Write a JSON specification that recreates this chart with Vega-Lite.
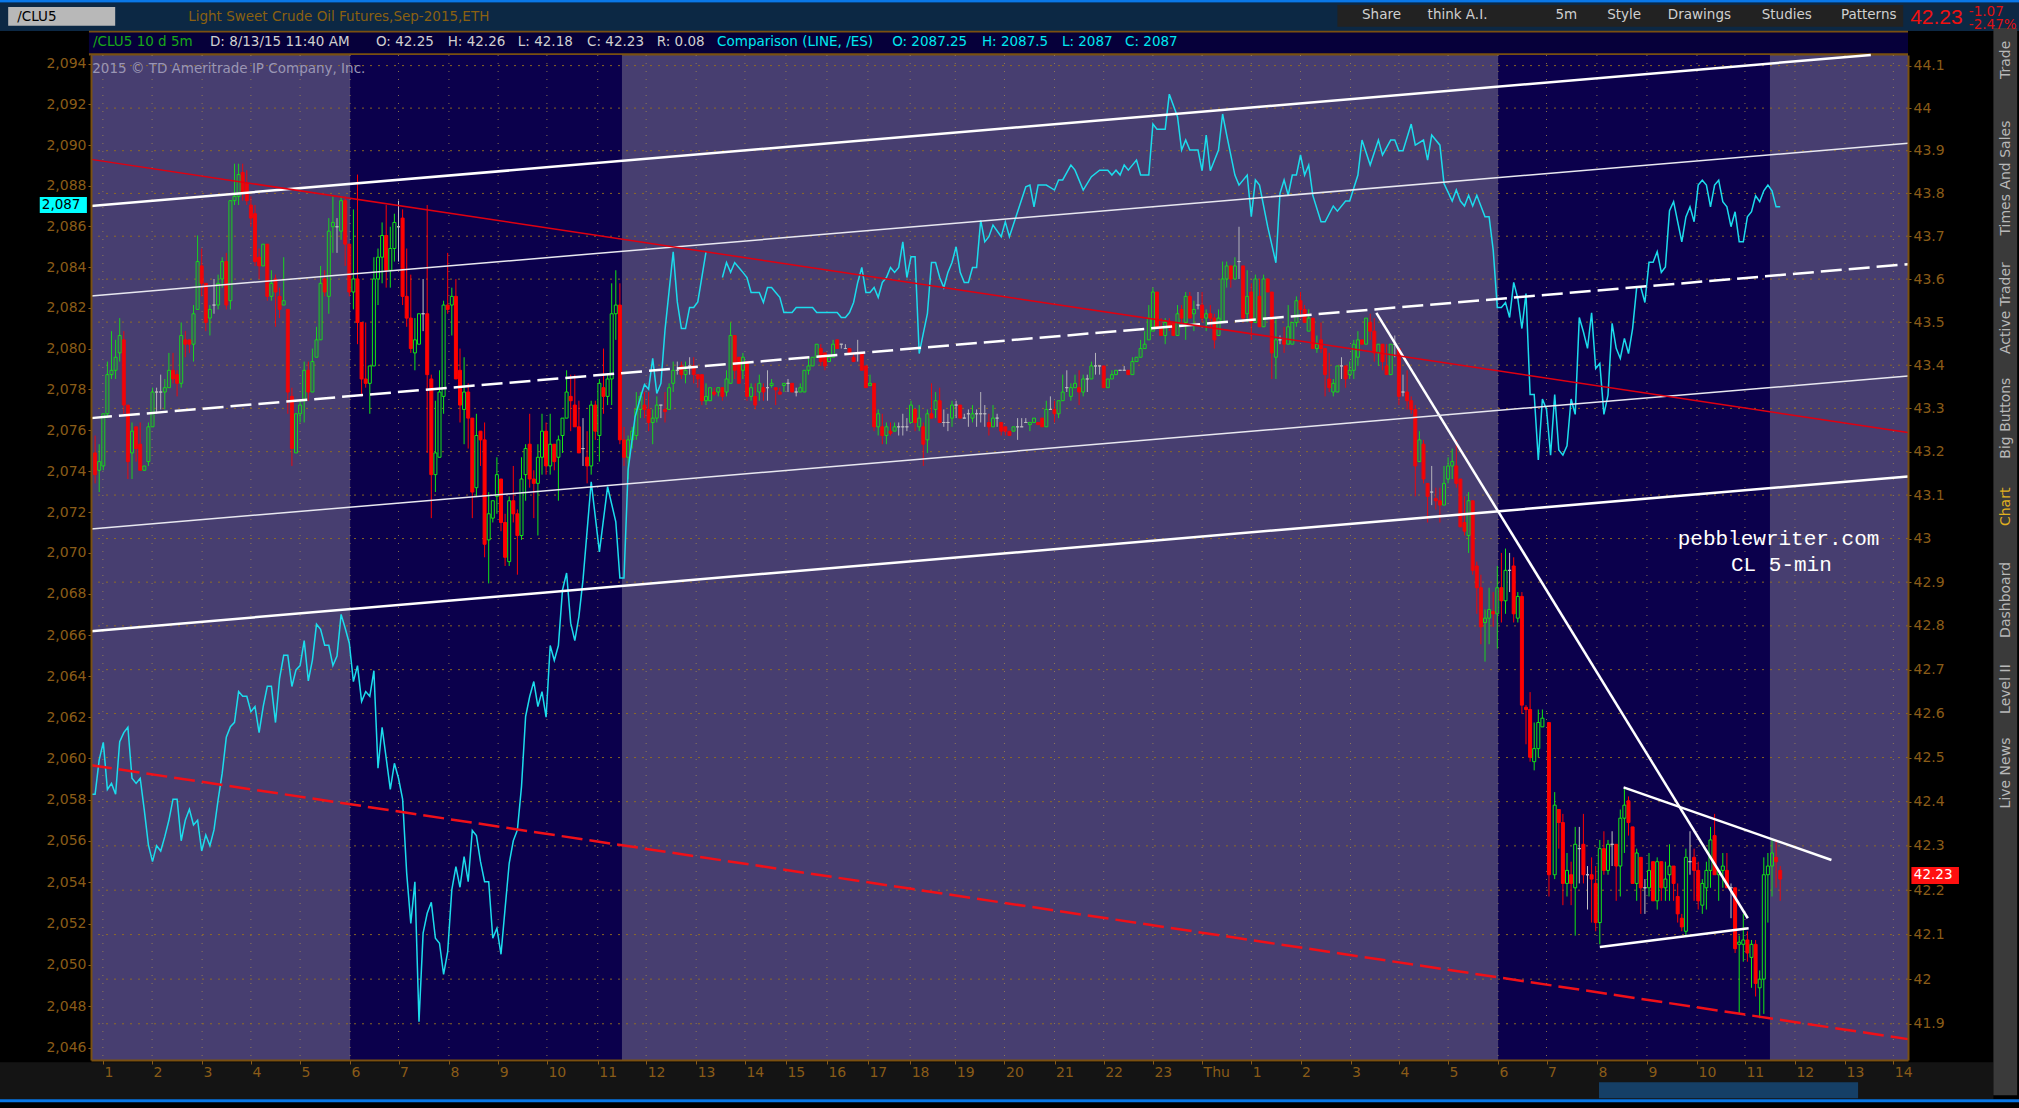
{"$schema":"https://vega.github.io/schema/vega-lite/v6.json","autosize":"none","width":1817,"height":1005,"padding":{"left":91,"top":55,"right":111,"bottom":48},"background":"#000000","view":{"fill":"#473e70","stroke":null},
"datasets":{
"sessions":[{"t":63.2,"t2":129.5},{"t":343.2,"t2":409.5}],
"hours":[{"t":2.9,"h":"1"},{"t":14.9,"h":"2"},{"t":27.1,"h":"3"},{"t":39,"h":"4"},{"t":51,"h":"5"},{"t":63.2,"h":"6"},{"t":75,"h":"7"},{"t":87.3,"h":"8"},{"t":99.3,"h":"9"},{"t":111.2,"h":"10"},{"t":123.6,"h":"11"},{"t":135.4,"h":"12"},{"t":147.6,"h":"13"},{"t":159.5,"h":"14"},{"t":169.5,"h":"15"},{"t":179.5,"h":"16"},{"t":189.5,"h":"17"},{"t":199.8,"h":"18"},{"t":210.8,"h":"19"},{"t":222.8,"h":"20"},{"t":235,"h":"21"},{"t":247,"h":"22"},{"t":259,"h":"23"},{"t":271,"h":"Thu"},{"t":283,"h":"1"},{"t":295,"h":"2"},{"t":307.2,"h":"3"},{"t":319,"h":"4"},{"t":331,"h":"5"},{"t":343.2,"h":"6"},{"t":355,"h":"7"},{"t":367.3,"h":"8"},{"t":379.5,"h":"9"},{"t":391.7,"h":"10"},{"t":403.4,"h":"11"},{"t":415.6,"h":"12"},{"t":427.8,"h":"13"},{"t":439.6,"h":"14"}],
"clticks":[{"v":41.9},{"v":42},{"v":42.1},{"v":42.2},{"v":42.3},{"v":42.4},{"v":42.5},{"v":42.6},{"v":42.7},{"v":42.8},{"v":42.9},{"v":43},{"v":43.1},{"v":43.2},{"v":43.3},{"v":43.4},{"v":43.5},{"v":43.6},{"v":43.7},{"v":43.8},{"v":43.9},{"v":44},{"v":44.1}],
"esticks":[{"v":2046},{"v":2094}],
"trends":[{"n":"a","t":0,"p":43.778},{"n":"a","t":434.1,"p":44.125},{"n":"e","t":0,"p":42.8},{"n":"e","t":443.17,"p":43.156},{"n":"b","t":0,"p":43.571},{"n":"b","t":443.17,"p":43.922},{"n":"d","t":0,"p":43.035},{"n":"d","t":443.17,"p":43.387},{"n":"c","t":0,"p":43.29},{"n":"c","t":443.17,"p":43.644},{"n":"f","t":0,"p":43.885},{"n":"f","t":443.17,"p":43.257},{"n":"g","t":0,"p":42.492},{"n":"g","t":443.17,"p":41.862},{"n":"h","t":313.5,"p":43.532},{"n":"h","t":404.1,"p":42.14},{"n":"i","t":373.8,"p":42.441},{"n":"i","t":424.5,"p":42.274},{"n":"j","t":368,"p":42.074},{"n":"j","t":404.3,"p":42.117}],
"chrome":[{"part":"top","t":-22.2,"t2":470.3,"p":44.246,"p2":44.18},{"part":"blue","t":-22.2,"t2":470.3,"p":44.2516,"p2":44.246},{"part":"bottom","t":-22.2,"t2":464,"p":41.809,"p2":41.724},{"part":"blue","t":-22.2,"t2":470.3,"p":41.724,"p2":41.717},{"part":"side","t":464,"t2":469.8,"p":44.187,"p2":41.733},{"part":"info","t":-0.5,"t2":443.17,"p":44.178,"p2":44.125},{"part":"edge","t":-0.5,"t2":443.17,"p":44.181,"p2":44.177},{"part":"edge","t":-0.5,"t2":443.17,"p":44.129,"p2":44.124},{"part":"tool","t":304,"t2":442,"p":44.24,"p2":44.19},{"part":"box","t":-20.2,"t2":5.9,"p":44.2355,"p2":44.192},{"part":"scroll","t":367.8,"t2":431,"p":41.763,"p2":41.726},{"part":"tagc","t":-12.5,"t2":-1,"p":43.7985,"p2":43.7617},{"part":"tagr","t":444,"t2":455.6,"p":42.2576,"p2":42.2185}],
"labels":[{"s":"/CLU5","t":-18,"p":44.2125,"g":"k"},{"s":"Light Sweet Crude Oil Futures,Sep-2015,ETH","t":23.7,"p":44.2125,"g":"o"},{"s":"/CLU5 10 d 5m","t":0.5,"p":44.155,"g":"g"},{"s":"D: 8/13/15 11:40 AM","t":29,"p":44.155,"g":"w"},{"s":"O: 42.25","t":69.5,"p":44.155,"g":"w"},{"s":"H: 42.26","t":87,"p":44.155,"g":"w"},{"s":"L: 42.18","t":104.1,"p":44.155,"g":"w"},{"s":"C: 42.23","t":121,"p":44.155,"g":"w"},{"s":"R: 0.08","t":138,"p":44.155,"g":"w"},{"s":"Comparison (LINE, /ES)","t":152.7,"p":44.155,"g":"c"},{"s":"O: 2087.25","t":195.4,"p":44.155,"g":"c"},{"s":"H: 2087.5","t":217.3,"p":44.155,"g":"c"},{"s":"L: 2087","t":236.8,"p":44.155,"g":"c"},{"s":"C: 2087","t":252.2,"p":44.155,"g":"c"},{"s":"Share","t":310,"p":44.2175,"g":"w"},{"s":"think A.I.","t":326,"p":44.2175,"g":"w"},{"s":"5m","t":357.2,"p":44.2175,"g":"w"},{"s":"Style","t":369.8,"p":44.2175,"g":"w"},{"s":"Drawings","t":384.6,"p":44.2175,"g":"w"},{"s":"Studies","t":407.5,"p":44.2175,"g":"w"},{"s":"Patterns","t":426.8,"p":44.2175,"g":"w"},{"s":"-1.07","t":458,"p":44.224,"g":"r"},{"s":"-2.47%","t":458,"p":44.194,"g":"r"},{"s":"2015 © TD Ameritrade IP Company, Inc.","t":0.3,"p":44.093,"g":"v"},{"s":"2,087","t":-12,"p":43.78,"g":"k"},{"s":"42.23","t":444.6,"p":42.239,"g":"x"}],
"last":[{"s":"42.23","t":443.7,"p":44.21}],
"tabs":[{"s":"Trade","t":467,"p":44.114,"g":"n"},{"s":"Times And Sales","t":467,"p":43.842,"g":"n"},{"s":"Active Trader","t":467,"p":43.543,"g":"n"},{"s":"Big Buttons","t":467,"p":43.29,"g":"n"},{"s":"Chart","t":467,"p":43.086,"g":"y"},{"s":"Dashboard","t":467,"p":42.872,"g":"n"},{"s":"Level II","t":467,"p":42.667,"g":"n"},{"s":"Live News","t":467,"p":42.474,"g":"n"}],
"notes":[{"s":"pebblewriter.com","t":387,"p":43.011},{"s":"CL 5-min","t":400,"p":42.952}],
"es":[{"t":0,"es":2058.37},{"t":1,"es":2058.37},{"t":2,"es":2060.05},{"t":3,"es":2060.9},{"t":4,"es":2058.6},{"t":5,"es":2058.9},{"t":6,"es":2058.37},{"t":7,"es":2060.94},{"t":8,"es":2061.38},{"t":9,"es":2061.64},{"t":10,"es":2059.15},{"t":11,"es":2058.9},{"t":12,"es":2059.15},{"t":13,"es":2057.6},{"t":14,"es":2055.9},{"t":15,"es":2055.08},{"t":16,"es":2055.86},{"t":17,"es":2055.6},{"t":18,"es":2056.3},{"t":19,"es":2057.1},{"t":20,"es":2058.13},{"t":21,"es":2058.13},{"t":22,"es":2056.1},{"t":23,"es":2057.1},{"t":24,"es":2057.64},{"t":25,"es":2056.87},{"t":26,"es":2057.1},{"t":27,"es":2055.6},{"t":28,"es":2056.38},{"t":29,"es":2055.86},{"t":30,"es":2056.63},{"t":31,"es":2058.1},{"t":32,"es":2059.4},{"t":33,"es":2061.15},{"t":34,"es":2061.67},{"t":35,"es":2061.88},{"t":36,"es":2063.38},{"t":37,"es":2063.15},{"t":38,"es":2063.15},{"t":39,"es":2062.4},{"t":40,"es":2062.65},{"t":41,"es":2061.38},{"t":42,"es":2062.65},{"t":43,"es":2063.64},{"t":44,"es":2063.64},{"t":45,"es":2061.87},{"t":46,"es":2064.03},{"t":47,"es":2065.15},{"t":48,"es":2065.15},{"t":49,"es":2063.63},{"t":50,"es":2064.44},{"t":51,"es":2064.65},{"t":52,"es":2065.87},{"t":53,"es":2063.9},{"t":54,"es":2064.92},{"t":55,"es":2066.67},{"t":56,"es":2066.42},{"t":57,"es":2065.64},{"t":58,"es":2065.64},{"t":59,"es":2064.65},{"t":60,"es":2065.12},{"t":61,"es":2067.15},{"t":62,"es":2066.47},{"t":63,"es":2065.74},{"t":64,"es":2063.87},{"t":65,"es":2064.65},{"t":66,"es":2062.9},{"t":67,"es":2063.38},{"t":68,"es":2063.15},{"t":69,"es":2064.4},{"t":70,"es":2059.64},{"t":71,"es":2061.64},{"t":72,"es":2060.13},{"t":73,"es":2058.61},{"t":74,"es":2059.88},{"t":75,"es":2059.15},{"t":76,"es":2058.13},{"t":77,"es":2054.51},{"t":78,"es":2052.07},{"t":79,"es":2054.1},{"t":80,"es":2047.27},{"t":81,"es":2051.59},{"t":82,"es":2052.56},{"t":83,"es":2053.1},{"t":84,"es":2051.34},{"t":85,"es":2051.1},{"t":86,"es":2049.58},{"t":87,"es":2050.69},{"t":88,"es":2053.7},{"t":89,"es":2054.84},{"t":90,"es":2053.83},{"t":91,"es":2055.33},{"t":92,"es":2054.1},{"t":93,"es":2056.6},{"t":94,"es":2056.35},{"t":95,"es":2055.08},{"t":96,"es":2054.1},{"t":97,"es":2054.1},{"t":98,"es":2051.34},{"t":99,"es":2051.83},{"t":100,"es":2050.56},{"t":101,"es":2052.8},{"t":102,"es":2055},{"t":103,"es":2056.1},{"t":104,"es":2056.63},{"t":105,"es":2058.74},{"t":106,"es":2062.16},{"t":107,"es":2063.14},{"t":108,"es":2063.87},{"t":109,"es":2062.65},{"t":110,"es":2063.38},{"t":111,"es":2062.13},{"t":112,"es":2065.63},{"t":113,"es":2064.9},{"t":114,"es":2065.63},{"t":115,"es":2068.34},{"t":116,"es":2069.17},{"t":117,"es":2066.72},{"t":118,"es":2065.87},{"t":119,"es":2067.04},{"t":120,"es":2068.83},{"t":122,"es":2073.62},{"t":124,"es":2070.2},{"t":126,"es":2073.38},{"t":128,"es":2071.67},{"t":129,"es":2068.92},{"t":130,"es":2068.92},{"t":131,"es":2074.2},{"t":132.7,"es":2076.79},{"t":134.3,"es":2077.93},{"t":135,"es":2078.37},{"t":136,"es":2078.14},{"t":137,"es":2079.64},{"t":138,"es":2077.93},{"t":139,"es":2078.42},{"t":140,"es":2081.02},{"t":142,"es":2084.84},{"t":143,"es":2082.4},{"t":144,"es":2081.1},{"t":145,"es":2081.1},{"t":146,"es":2082.13},{"t":147,"es":2082.13},{"t":148,"es":2082.4},{"t":150,"es":2084.84},{"t":152,"es":null},{"t":154,"es":2083.59},{"t":155,"es":2084.32},{"t":156,"es":2083.84},{"t":157,"es":2084.32},{"t":158,"es":2084.08},{"t":159,"es":2083.84},{"t":160,"es":2083.59},{"t":161,"es":2082.86},{"t":163,"es":2082.86},{"t":164,"es":2082.37},{"t":165,"es":2083.1},{"t":166,"es":2083.1},{"t":167,"es":2082.86},{"t":168,"es":2082.62},{"t":169,"es":2081.88},{"t":171,"es":2081.88},{"t":172,"es":2082.13},{"t":176,"es":2082.13},{"t":177,"es":2081.88},{"t":182,"es":2081.88},{"t":183,"es":2081.64},{"t":184,"es":2081.64},{"t":185,"es":2081.88},{"t":186,"es":2082.37},{"t":187,"es":2083.35},{"t":188,"es":2084.08},{"t":189,"es":2082.86},{"t":190,"es":2082.86},{"t":191,"es":2083.1},{"t":192,"es":2082.62},{"t":193,"es":2083.35},{"t":194,"es":2083.59},{"t":195,"es":2084.08},{"t":196,"es":2083.84},{"t":197,"es":2084.08},{"t":198,"es":2085.33},{"t":199,"es":2083.59},{"t":200,"es":2084.6},{"t":201,"es":2084.6},{"t":202,"es":2079.88},{"t":203,"es":2080.86},{"t":204,"es":2081.83},{"t":205,"es":2084.32},{"t":206,"es":2084.32},{"t":207,"es":2083.59},{"t":208,"es":2083.1},{"t":209,"es":2083.84},{"t":210,"es":2084.32},{"t":211,"es":2085.09},{"t":212,"es":2083.84},{"t":213,"es":2083.35},{"t":214,"es":2083.35},{"t":215,"es":2084.08},{"t":216,"es":2084.08},{"t":217,"es":2086.39},{"t":218,"es":2085.33},{"t":219,"es":2085.58},{"t":220,"es":2086.15},{"t":222,"es":2085.58},{"t":223,"es":2086.31},{"t":224,"es":2085.58},{"t":226,"es":2086.8},{"t":228,"es":2088.02},{"t":229,"es":2088.1},{"t":230,"es":2087.04},{"t":231,"es":2088.1},{"t":233,"es":2088.1},{"t":235,"es":2087.86},{"t":236,"es":2088.35},{"t":237,"es":2088.35},{"t":239,"es":2089.08},{"t":240,"es":2088.83},{"t":242,"es":2087.86},{"t":244,"es":2088.51},{"t":246,"es":2088.83},{"t":248,"es":2088.83},{"t":249,"es":2088.59},{"t":250,"es":2088.83},{"t":251,"es":2088.59},{"t":252,"es":2089.08},{"t":253,"es":2088.83},{"t":255,"es":2089.32},{"t":256,"es":2088.59},{"t":258,"es":2088.59},{"t":259,"es":2091.08},{"t":260,"es":2090.83},{"t":262,"es":2090.83},{"t":263,"es":2092.54},{"t":265,"es":2091.44},{"t":266,"es":2089.81},{"t":267,"es":2090.3},{"t":268,"es":2089.81},{"t":270,"es":2089.81},{"t":271,"es":2088.8},{"t":272,"es":2090.54},{"t":273,"es":2088.8},{"t":275,"es":2089.81},{"t":276,"es":2091.57},{"t":277,"es":2090.54},{"t":279,"es":2088.59},{"t":280,"es":2088.1},{"t":282,"es":2088.59},{"t":283,"es":2086.56},{"t":284,"es":2088.35},{"t":285,"es":2088.1},{"t":287,"es":2086.07},{"t":289,"es":2084.31},{"t":290,"es":2087.7},{"t":291,"es":2088.35},{"t":292,"es":2087.6},{"t":293,"es":2088.59},{"t":294,"es":2088.59},{"t":295,"es":2089.57},{"t":296,"es":2088.59},{"t":297,"es":2089.08},{"t":298,"es":2087.6},{"t":300,"es":2086.31},{"t":301,"es":2086.31},{"t":303,"es":2087.08},{"t":304,"es":2086.83},{"t":306,"es":2087.32},{"t":307,"es":2087.32},{"t":309,"es":2088.59},{"t":310,"es":2090.3},{"t":312,"es":2089.08},{"t":314,"es":2090.3},{"t":315,"es":2089.57},{"t":317,"es":2090.3},{"t":318,"es":2090.3},{"t":319,"es":2089.78},{"t":320,"es":2089.78},{"t":322,"es":2091.08},{"t":323,"es":2090.05},{"t":325,"es":2090.3},{"t":326,"es":2089.32},{"t":327,"es":2090.54},{"t":329,"es":2090.05},{"t":330,"es":2088.18},{"t":332,"es":2087.32},{"t":333,"es":2087.86},{"t":334,"es":2087.32},{"t":335,"es":2087.08},{"t":336,"es":2087.6},{"t":337,"es":2087.08},{"t":338,"es":2087.6},{"t":340,"es":2086.56},{"t":341,"es":2086.56},{"t":342,"es":2084.93},{"t":343,"es":2082.13},{"t":344,"es":2082.13},{"t":345,"es":2082.37},{"t":346,"es":2081.64},{"t":347,"es":2083.35},{"t":348,"es":2082.57},{"t":349,"es":2081.1},{"t":350,"es":2082.81},{"t":351,"es":2077.88},{"t":352,"es":2077.88},{"t":353,"es":2074.68},{"t":354,"es":2077.66},{"t":355,"es":2077.15},{"t":356,"es":2074.92},{"t":357,"es":2077.88},{"t":358,"es":2075.17},{"t":359,"es":2074.92},{"t":360,"es":2075.38},{"t":361,"es":2077.66},{"t":362,"es":2076.91},{"t":363,"es":2081.64},{"t":364,"es":2080.94},{"t":365,"es":2080.13},{"t":366,"es":2081.87},{"t":367,"es":2079.15},{"t":368,"es":2079.4},{"t":369,"es":2076.91},{"t":370,"es":2077.85},{"t":371,"es":2081.35},{"t":372,"es":2080.13},{"t":373,"es":2079.64},{"t":374,"es":2080.62},{"t":375,"es":2079.88},{"t":376,"es":2081.1},{"t":377,"es":2083.11},{"t":378,"es":2083.11},{"t":379,"es":2082.37},{"t":380,"es":2084.33},{"t":381,"es":2084.33},{"t":382,"es":2084.85},{"t":383,"es":2083.84},{"t":384,"es":2084.11},{"t":385,"es":2086.85},{"t":386,"es":2087.29},{"t":387,"es":2086.31},{"t":388,"es":2085.33},{"t":389,"es":2086.55},{"t":390,"es":2087.04},{"t":391,"es":2086.31},{"t":392,"es":2088.1},{"t":393,"es":2088.34},{"t":394,"es":2088.1},{"t":395,"es":2087.04},{"t":396,"es":2088.1},{"t":397,"es":2088.34},{"t":398,"es":2087.29},{"t":399,"es":2087.04},{"t":400,"es":2086.07},{"t":401,"es":2086.8},{"t":402,"es":2085.33},{"t":403,"es":2085.33},{"t":404,"es":2086.55},{"t":405,"es":2086.8},{"t":406,"es":2087.58},{"t":407,"es":2087.29},{"t":408,"es":2087.82},{"t":409,"es":2088.1},{"t":410,"es":2087.82},{"t":411,"es":2087.04},{"t":412,"es":2087.04}],
"bars":[{"t":1,"o":43.21,"h":43.25,"l":43.14,"c":43.16},{"t":2,"o":43.17,"h":43.23,"l":43.12,"c":43.19},{"t":3,"o":43.18,"h":43.3,"l":43.17,"c":43.3},{"t":4,"o":43.3,"h":43.42,"l":43.29,"c":43.39},{"t":5,"o":43.39,"h":43.49,"l":43.38,"c":43.4},{"t":6,"o":43.4,"h":43.47,"l":43.38,"c":43.43},{"t":7,"o":43.44,"h":43.52,"l":43.42,"c":43.48},{"t":8,"o":43.47,"h":43.49,"l":43.3,"c":43.32},{"t":9,"o":43.32,"h":43.32,"l":43.15,"c":43.19},{"t":10,"o":43.21,"h":43.28,"l":43.15,"c":43.26},{"t":11,"o":43.27,"h":43.27,"l":43.19,"c":43.22},{"t":12,"o":43.23,"h":43.28,"l":43.17,"c":43.17},{"t":13,"o":43.17,"h":43.18,"l":43.17,"c":43.18},{"t":14,"o":43.19,"h":43.28,"l":43.18,"c":43.27},{"t":15,"o":43.27,"h":43.36,"l":43.27,"c":43.35},{"t":16,"o":43.35,"h":43.36,"l":43.3,"c":43.35},{"t":17,"o":43.35,"h":43.39,"l":43.31,"c":43.35},{"t":18,"o":43.35,"h":43.38,"l":43.31,"c":43.36},{"t":19,"o":43.36,"h":43.44,"l":43.36,"c":43.4},{"t":20,"o":43.4,"h":43.44,"l":43.37,"c":43.38},{"t":21,"o":43.39,"h":43.4,"l":43.34,"c":43.37},{"t":22,"o":43.37,"h":43.51,"l":43.36,"c":43.48},{"t":23,"o":43.47,"h":43.49,"l":43.43,"c":43.46},{"t":24,"o":43.47,"h":43.47,"l":43.44,"c":43.46},{"t":25,"o":43.46,"h":43.55,"l":43.42,"c":43.53},{"t":26,"o":43.54,"h":43.71,"l":43.54,"c":43.65},{"t":27,"o":43.64,"h":43.68,"l":43.57,"c":43.6},{"t":28,"o":43.6,"h":43.6,"l":43.49,"c":43.51},{"t":29,"o":43.52,"h":43.55,"l":43.48,"c":43.54},{"t":30,"o":43.55,"h":43.61,"l":43.53,"c":43.55},{"t":31,"o":43.55,"h":43.62,"l":43.54,"c":43.6},{"t":32,"o":43.61,"h":43.66,"l":43.59,"c":43.65},{"t":33,"o":43.65,"h":43.67,"l":43.54,"c":43.55},{"t":34,"o":43.56,"h":43.79,"l":43.54,"c":43.79},{"t":35,"o":43.79,"h":43.875,"l":43.78,"c":43.8},{"t":36,"o":43.8,"h":43.875,"l":43.78,"c":43.85},{"t":37,"o":43.855,"h":43.875,"l":43.79,"c":43.81},{"t":38,"o":43.83,"h":43.86,"l":43.78,"c":43.79},{"t":39,"o":43.78,"h":43.8,"l":43.73,"c":43.75},{"t":40,"o":43.76,"h":43.78,"l":43.64,"c":43.65},{"t":41,"o":43.66,"h":43.68,"l":43.61,"c":43.64},{"t":42,"o":43.64,"h":43.69,"l":43.64,"c":43.69},{"t":43,"o":43.69,"h":43.69,"l":43.56,"c":43.57},{"t":44,"o":43.57,"h":43.63,"l":43.56,"c":43.6},{"t":45,"o":43.61,"h":43.62,"l":43.5,"c":43.58},{"t":46,"o":43.57,"h":43.59,"l":43.52,"c":43.54},{"t":47,"o":43.55,"h":43.66,"l":43.55,"c":43.56},{"t":48,"o":43.54,"h":43.54,"l":43.3,"c":43.35},{"t":49,"o":43.34,"h":43.36,"l":43.18,"c":43.22},{"t":50,"o":43.21,"h":43.3,"l":43.21,"c":43.3},{"t":51,"o":43.3,"h":43.33,"l":43.28,"c":43.32},{"t":52,"o":43.33,"h":43.42,"l":43.28,"c":43.4},{"t":53,"o":43.4,"h":43.42,"l":43.33,"c":43.35},{"t":54,"o":43.35,"h":43.45,"l":43.35,"c":43.42},{"t":55,"o":43.43,"h":43.5,"l":43.43,"c":43.47},{"t":56,"o":43.47,"h":43.64,"l":43.47,"c":43.6},{"t":57,"o":43.61,"h":43.63,"l":43.57,"c":43.58},{"t":58,"o":43.57,"h":43.75,"l":43.53,"c":43.72},{"t":59,"o":43.73,"h":43.8,"l":43.67,"c":43.74},{"t":60,"o":43.73,"h":43.75,"l":43.67,"c":43.73},{"t":61,"o":43.72,"h":43.8,"l":43.7,"c":43.79},{"t":62,"o":43.79,"h":43.8,"l":43.64,"c":43.69},{"t":63,"o":43.69,"h":43.69,"l":43.57,"c":43.58},{"t":64,"o":43.58,"h":43.77,"l":43.54,"c":43.61},{"t":65,"o":43.61,"h":43.85,"l":43.46,"c":43.51},{"t":66,"o":43.51,"h":43.51,"l":43.34,"c":43.38},{"t":67,"o":43.38,"h":43.51,"l":43.36,"c":43.37},{"t":68,"o":43.37,"h":43.41,"l":43.3,"c":43.41},{"t":69,"o":43.41,"h":43.66,"l":43.41,"c":43.61},{"t":70,"o":43.61,"h":43.68,"l":43.55,"c":43.66},{"t":71,"o":43.66,"h":43.74,"l":43.6,"c":43.71},{"t":72,"o":43.71,"h":43.78,"l":43.59,"c":43.63},{"t":73,"o":43.63,"h":43.73,"l":43.59,"c":43.68},{"t":74,"o":43.68,"h":43.76,"l":43.65,"c":43.74},{"t":75,"o":43.73,"h":43.79,"l":43.65,"c":43.73},{"t":76,"o":43.75,"h":43.77,"l":43.55,"c":43.57},{"t":77,"o":43.57,"h":43.68,"l":43.5,"c":43.52},{"t":78,"o":43.52,"h":43.62,"l":43.44,"c":43.45},{"t":79,"o":43.44,"h":43.52,"l":43.4,"c":43.47},{"t":80,"o":43.46,"h":43.53,"l":43.46,"c":43.53},{"t":81,"o":43.53,"h":43.61,"l":43.49,"c":43.53},{"t":82,"o":43.53,"h":43.78,"l":43.21,"c":43.39},{"t":83,"o":43.38,"h":43.39,"l":43.06,"c":43.16},{"t":84,"o":43.16,"h":43.33,"l":43.12,"c":43.21},{"t":85,"o":43.2,"h":43.4,"l":43.2,"c":43.35},{"t":86,"o":43.34,"h":43.56,"l":43.3,"c":43.55},{"t":87,"o":43.55,"h":43.67,"l":43.53,"c":43.54},{"t":88,"o":43.55,"h":43.59,"l":43.48,"c":43.57},{"t":89,"o":43.57,"h":43.61,"l":43.38,"c":43.38},{"t":90,"o":43.4,"h":43.45,"l":43.28,"c":43.32},{"t":91,"o":43.31,"h":43.43,"l":43.23,"c":43.35},{"t":92,"o":43.35,"h":43.37,"l":43.22,"c":43.29},{"t":93,"o":43.29,"h":43.29,"l":43.06,"c":43.12},{"t":94,"o":43.13,"h":43.3,"l":43.11,"c":43.25},{"t":95,"o":43.26,"h":43.26,"l":43.18,"c":43.24},{"t":96,"o":43.24,"h":43.28,"l":42.97,"c":43},{"t":97,"o":43.01,"h":43.12,"l":42.91,"c":43.07},{"t":98,"o":43.06,"h":43.1,"l":43.05,"c":43.1},{"t":99,"o":43.11,"h":43.2,"l":43.07,"c":43.16},{"t":100,"o":43.15,"h":43.15,"l":43.03,"c":43.05},{"t":101,"o":43.05,"h":43.07,"l":42.95,"c":42.97},{"t":102,"o":42.96,"h":43.11,"l":42.95,"c":43.1},{"t":103,"o":43.1,"h":43.18,"l":43.05,"c":43.07},{"t":104,"o":43.07,"h":43.08,"l":42.93,"c":43.02},{"t":105,"o":43.02,"h":43.2,"l":43.01,"c":43.15},{"t":106,"o":43.16,"h":43.23,"l":43.1,"c":43.22},{"t":107,"o":43.23,"h":43.3,"l":43.13,"c":43.15},{"t":108,"o":43.15,"h":43.17,"l":43.06,"c":43.14},{"t":109,"o":43.14,"h":43.23,"l":43.02,"c":43.2},{"t":110,"o":43.2,"h":43.3,"l":43.16,"c":43.26},{"t":111,"o":43.26,"h":43.28,"l":43.16,"c":43.18},{"t":112,"o":43.18,"h":43.3,"l":43.16,"c":43.23},{"t":113,"o":43.23,"h":43.23,"l":43.17,"c":43.19},{"t":114,"o":43.2,"h":43.25,"l":43.1,"c":43.24},{"t":115,"o":43.25,"h":43.29,"l":43.21,"c":43.29},{"t":116,"o":43.29,"h":43.4,"l":43.29,"c":43.35},{"t":117,"o":43.34,"h":43.39,"l":43.26,"c":43.33},{"t":118,"o":43.32,"h":43.39,"l":43.27,"c":43.27},{"t":119,"o":43.27,"h":43.33,"l":43.21,"c":43.21},{"t":120,"o":43.22,"h":43.29,"l":43.18,"c":43.22},{"t":121,"o":43.2,"h":43.26,"l":43.14,"c":43.18},{"t":122,"o":43.18,"h":43.33,"l":43.16,"c":43.32},{"t":123,"o":43.32,"h":43.33,"l":43.24,"c":43.26},{"t":124,"o":43.25,"h":43.38,"l":43.19,"c":43.37},{"t":125,"o":43.36,"h":43.45,"l":43.3,"c":43.34},{"t":126,"o":43.34,"h":43.39,"l":43.32,"c":43.38},{"t":127,"o":43.38,"h":43.6,"l":43.32,"c":43.53},{"t":128,"o":43.53,"h":43.63,"l":43.47,"c":43.55},{"t":129,"o":43.55,"h":43.6,"l":43.23,"c":43.24},{"t":130,"o":43.24,"h":43.27,"l":43.18,"c":43.2},{"t":131,"o":43.2,"h":43.25,"l":43.15,"c":43.24},{"t":132,"o":43.24,"h":43.27,"l":43.22,"c":43.26},{"t":133,"o":43.25,"h":43.35,"l":43.24,"c":43.31},{"t":134,"o":43.31,"h":43.35,"l":43.29,"c":43.34},{"t":135,"o":43.32,"h":43.35,"l":43.29,"c":43.31},{"t":136,"o":43.31,"h":43.35,"l":43.26,"c":43.28},{"t":137,"o":43.28,"h":43.31,"l":43.23,"c":43.29},{"t":138,"o":43.29,"h":43.34,"l":43.28,"c":43.32},{"t":139,"o":43.32,"h":43.32,"l":43.29,"c":43.32},{"t":140,"o":43.31,"h":43.35,"l":43.28,"c":43.305},{"t":141,"o":43.31,"h":43.37,"l":43.31,"c":43.36},{"t":142,"o":43.37,"h":43.42,"l":43.35,"c":43.4},{"t":143,"o":43.4,"h":43.42,"l":43.39,"c":43.4},{"t":144,"o":43.41,"h":43.42,"l":43.38,"c":43.39},{"t":145,"o":43.39,"h":43.42,"l":43.37,"c":43.4},{"t":146,"o":43.41,"h":43.43,"l":43.39,"c":43.41},{"t":147,"o":43.41,"h":43.43,"l":43.37,"c":43.39},{"t":148,"o":43.39,"h":43.39,"l":43.36,"c":43.38},{"t":149,"o":43.39,"h":43.39,"l":43.32,"c":43.33},{"t":150,"o":43.33,"h":43.37,"l":43.32,"c":43.34},{"t":151,"o":43.33,"h":43.36,"l":43.33,"c":43.36},{"t":152,"o":43.35,"h":43.36,"l":43.34,"c":43.345},{"t":153,"o":43.35,"h":43.36,"l":43.34,"c":43.36},{"t":154,"o":43.36,"h":43.36,"l":43.33,"c":43.34},{"t":155,"o":43.35,"h":43.4,"l":43.34,"c":43.38},{"t":156,"o":43.37,"h":43.51,"l":43.37,"c":43.48},{"t":157,"o":43.48,"h":43.48,"l":43.38,"c":43.4},{"t":158,"o":43.43,"h":43.43,"l":43.37,"c":43.37},{"t":159,"o":43.4,"h":43.44,"l":43.38,"c":43.43},{"t":160,"o":43.42,"h":43.42,"l":43.33,"c":43.34},{"t":161,"o":43.34,"h":43.37,"l":43.33,"c":43.36},{"t":162,"o":43.34,"h":43.37,"l":43.31,"c":43.32},{"t":163,"o":43.35,"h":43.39,"l":43.33,"c":43.37},{"t":164,"o":43.36,"h":43.37,"l":43.33,"c":43.35},{"t":165,"o":43.36,"h":43.4,"l":43.33,"c":43.36},{"t":166,"o":43.365,"h":43.38,"l":43.36,"c":43.37},{"t":167,"o":43.36,"h":43.36,"l":43.32,"c":43.355},{"t":168,"o":43.35,"h":43.36,"l":43.35,"c":43.345},{"t":169,"o":43.365,"h":43.37,"l":43.35,"c":43.37},{"t":170,"o":43.37,"h":43.38,"l":43.35,"c":43.37},{"t":171,"o":43.37,"h":43.37,"l":43.35,"c":43.35},{"t":172,"o":43.35,"h":43.36,"l":43.34,"c":43.35},{"t":173,"o":43.35,"h":43.37,"l":43.35,"c":43.36},{"t":174,"o":43.35,"h":43.4,"l":43.35,"c":43.4},{"t":175,"o":43.4,"h":43.43,"l":43.39,"c":43.41},{"t":176,"o":43.41,"h":43.43,"l":43.41,"c":43.43},{"t":177,"o":43.43,"h":43.46,"l":43.43,"c":43.46},{"t":178,"o":43.45,"h":43.46,"l":43.41,"c":43.42},{"t":179,"o":43.44,"h":43.44,"l":43.4,"c":43.41},{"t":180,"o":43.42,"h":43.43,"l":43.42,"c":43.43},{"t":181,"o":43.43,"h":43.47,"l":43.43,"c":43.46},{"t":182,"o":43.47,"h":43.47,"l":43.45,"c":43.45},{"t":183,"o":43.46,"h":43.46,"l":43.45,"c":43.46},{"t":184,"o":43.45,"h":43.46,"l":43.45,"c":43.45},{"t":185,"o":43.45,"h":43.45,"l":43.44,"c":43.44},{"t":186,"o":43.43,"h":43.44,"l":43.42,"c":43.42},{"t":187,"o":43.44,"h":43.47,"l":43.42,"c":43.44},{"t":188,"o":43.44,"h":43.44,"l":43.4,"c":43.4},{"t":189,"o":43.41,"h":43.41,"l":43.36,"c":43.36},{"t":190,"o":43.365,"h":43.39,"l":43.365,"c":43.37},{"t":191,"o":43.37,"h":43.37,"l":43.26,"c":43.27},{"t":192,"o":43.27,"h":43.31,"l":43.25,"c":43.3},{"t":193,"o":43.27,"h":43.3,"l":43.23,"c":43.25},{"t":194,"o":43.25,"h":43.28,"l":43.23,"c":43.27},{"t":195,"o":43.26,"h":43.28,"l":43.25,"c":43.255},{"t":196,"o":43.26,"h":43.28,"l":43.26,"c":43.27},{"t":197,"o":43.27,"h":43.28,"l":43.25,"c":43.27},{"t":198,"o":43.27,"h":43.3,"l":43.25,"c":43.27},{"t":199,"o":43.27,"h":43.29,"l":43.26,"c":43.27},{"t":200,"o":43.28,"h":43.33,"l":43.28,"c":43.32},{"t":201,"o":43.31,"h":43.31,"l":43.26,"c":43.28},{"t":202,"o":43.27,"h":43.32,"l":43.26,"c":43.29},{"t":203,"o":43.27,"h":43.28,"l":43.18,"c":43.23},{"t":204,"o":43.24,"h":43.31,"l":43.21,"c":43.3},{"t":205,"o":43.3,"h":43.37,"l":43.29,"c":43.29},{"t":206,"o":43.31,"h":43.35,"l":43.29,"c":43.33},{"t":207,"o":43.33,"h":43.36,"l":43.28,"c":43.28},{"t":208,"o":43.28,"h":43.31,"l":43.27,"c":43.28},{"t":209,"o":43.28,"h":43.3,"l":43.26,"c":43.28},{"t":210,"o":43.29,"h":43.33,"l":43.27,"c":43.32},{"t":211,"o":43.32,"h":43.33,"l":43.29,"c":43.32},{"t":212,"o":43.32,"h":43.32,"l":43.29,"c":43.29},{"t":213,"o":43.29,"h":43.3,"l":43.29,"c":43.29},{"t":214,"o":43.3,"h":43.31,"l":43.27,"c":43.3},{"t":215,"o":43.29,"h":43.32,"l":43.28,"c":43.3},{"t":216,"o":43.3,"h":43.31,"l":43.27,"c":43.3},{"t":217,"o":43.3,"h":43.35,"l":43.28,"c":43.3},{"t":218,"o":43.3,"h":43.32,"l":43.27,"c":43.3},{"t":219,"o":43.28,"h":43.3,"l":43.25,"c":43.27},{"t":220,"o":43.27,"h":43.32,"l":43.27,"c":43.29},{"t":221,"o":43.29,"h":43.3,"l":43.27,"c":43.29},{"t":222,"o":43.28,"h":43.28,"l":43.25,"c":43.26},{"t":223,"o":43.27,"h":43.27,"l":43.25,"c":43.26},{"t":224,"o":43.26,"h":43.26,"l":43.25,"c":43.25},{"t":225,"o":43.26,"h":43.27,"l":43.26,"c":43.27},{"t":226,"o":43.27,"h":43.29,"l":43.24,"c":43.27},{"t":227,"o":43.27,"h":43.29,"l":43.27,"c":43.27},{"t":228,"o":43.28,"h":43.29,"l":43.28,"c":43.28},{"t":229,"o":43.275,"h":43.28,"l":43.26,"c":43.28},{"t":230,"o":43.28,"h":43.29,"l":43.28,"c":43.29},{"t":231,"o":43.28,"h":43.28,"l":43.28,"c":43.275},{"t":232,"o":43.29,"h":43.29,"l":43.27,"c":43.27},{"t":233,"o":43.27,"h":43.33,"l":43.27,"c":43.31},{"t":234,"o":43.31,"h":43.34,"l":43.31,"c":43.31},{"t":235,"o":43.31,"h":43.33,"l":43.28,"c":43.3},{"t":236,"o":43.3,"h":43.33,"l":43.29,"c":43.33},{"t":237,"o":43.33,"h":43.39,"l":43.33,"c":43.35},{"t":238,"o":43.36,"h":43.4,"l":43.35,"c":43.36},{"t":239,"o":43.34,"h":43.37,"l":43.33,"c":43.36},{"t":240,"o":43.36,"h":43.39,"l":43.36,"c":43.37},{"t":241,"o":43.36,"h":43.4,"l":43.32,"c":43.35},{"t":242,"o":43.35,"h":43.39,"l":43.34,"c":43.38},{"t":243,"o":43.38,"h":43.39,"l":43.35,"c":43.38},{"t":244,"o":43.38,"h":43.42,"l":43.38,"c":43.41},{"t":245,"o":43.41,"h":43.44,"l":43.39,"c":43.41},{"t":246,"o":43.41,"h":43.41,"l":43.39,"c":43.41},{"t":247,"o":43.41,"h":43.41,"l":43.36,"c":43.36},{"t":248,"o":43.36,"h":43.38,"l":43.36,"c":43.38},{"t":249,"o":43.38,"h":43.4,"l":43.38,"c":43.39},{"t":250,"o":43.39,"h":43.4,"l":43.39,"c":43.4},{"t":251,"o":43.4,"h":43.4,"l":43.4,"c":43.4},{"t":252,"o":43.4,"h":43.41,"l":43.4,"c":43.4},{"t":253,"o":43.4,"h":43.4,"l":43.39,"c":43.39},{"t":254,"o":43.39,"h":43.43,"l":43.39,"c":43.42},{"t":255,"o":43.42,"h":43.43,"l":43.42,"c":43.43},{"t":256,"o":43.43,"h":43.47,"l":43.43,"c":43.45},{"t":257,"o":43.45,"h":43.49,"l":43.45,"c":43.46},{"t":258,"o":43.47,"h":43.55,"l":43.47,"c":43.52},{"t":259,"o":43.49,"h":43.59,"l":43.49,"c":43.58},{"t":260,"o":43.58,"h":43.58,"l":43.5,"c":43.5},{"t":261,"o":43.5,"h":43.52,"l":43.48,"c":43.48},{"t":262,"o":43.48,"h":43.52,"l":43.46,"c":43.51},{"t":263,"o":43.51,"h":43.52,"l":43.49,"c":43.5},{"t":264,"o":43.51,"h":43.51,"l":43.48,"c":43.48},{"t":265,"o":43.48,"h":43.55,"l":43.48,"c":43.53},{"t":266,"o":43.54,"h":43.55,"l":43.51,"c":43.52},{"t":267,"o":43.51,"h":43.58,"l":43.47,"c":43.57},{"t":268,"o":43.57,"h":43.58,"l":43.52,"c":43.52},{"t":269,"o":43.53,"h":43.56,"l":43.49,"c":43.54},{"t":270,"o":43.55,"h":43.58,"l":43.54,"c":43.55},{"t":271,"o":43.55,"h":43.58,"l":43.51,"c":43.52},{"t":272,"o":43.52,"h":43.54,"l":43.49,"c":43.53},{"t":273,"o":43.53,"h":43.55,"l":43.5,"c":43.52},{"t":274,"o":43.52,"h":43.53,"l":43.45,"c":43.47},{"t":275,"o":43.48,"h":43.54,"l":43.48,"c":43.52},{"t":276,"o":43.51,"h":43.65,"l":43.51,"c":43.61},{"t":277,"o":43.61,"h":43.65,"l":43.59,"c":43.64},{"t":278,"o":43.64,"h":43.64,"l":43.59,"c":43.61},{"t":279,"o":43.61,"h":43.66,"l":43.61,"c":43.64},{"t":280,"o":43.65,"h":43.73,"l":43.61,"c":43.65},{"t":281,"o":43.64,"h":43.64,"l":43.51,"c":43.52},{"t":282,"o":43.53,"h":43.63,"l":43.51,"c":43.57},{"t":283,"o":43.58,"h":43.6,"l":43.47,"c":43.51},{"t":284,"o":43.51,"h":43.62,"l":43.51,"c":43.61},{"t":285,"o":43.57,"h":43.61,"l":43.5,"c":43.5},{"t":286,"o":43.5,"h":43.62,"l":43.5,"c":43.61},{"t":287,"o":43.61,"h":43.61,"l":43.58,"c":43.58},{"t":288,"o":43.58,"h":43.58,"l":43.38,"c":43.44},{"t":289,"o":43.43,"h":43.52,"l":43.38,"c":43.47},{"t":290,"o":43.47,"h":43.48,"l":43.46,"c":43.47},{"t":291,"o":43.47,"h":43.5,"l":43.44,"c":43.46},{"t":292,"o":43.46,"h":43.55,"l":43.46,"c":43.5},{"t":293,"o":43.46,"h":43.51,"l":43.46,"c":43.51},{"t":294,"o":43.51,"h":43.57,"l":43.5,"c":43.56},{"t":295,"o":43.56,"h":43.58,"l":43.52,"c":43.54},{"t":296,"o":43.54,"h":43.55,"l":43.51,"c":43.51},{"t":297,"o":43.49,"h":43.54,"l":43.49,"c":43.52},{"t":298,"o":43.52,"h":43.52,"l":43.45,"c":43.45},{"t":299,"o":43.45,"h":43.48,"l":43.44,"c":43.46},{"t":300,"o":43.47,"h":43.51,"l":43.44,"c":43.45},{"t":301,"o":43.45,"h":43.45,"l":43.34,"c":43.39},{"t":302,"o":43.38,"h":43.44,"l":43.35,"c":43.36},{"t":303,"o":43.35,"h":43.38,"l":43.34,"c":43.37},{"t":304,"o":43.35,"h":43.41,"l":43.35,"c":43.41},{"t":305,"o":43.41,"h":43.43,"l":43.38,"c":43.41},{"t":306,"o":43.41,"h":43.41,"l":43.36,"c":43.38},{"t":307,"o":43.39,"h":43.42,"l":43.38,"c":43.4},{"t":308,"o":43.4,"h":43.47,"l":43.38,"c":43.46},{"t":309,"o":43.43,"h":43.49,"l":43.41,"c":43.47},{"t":310,"o":43.47,"h":43.47,"l":43.46,"c":43.46},{"t":311,"o":43.46,"h":43.52,"l":43.46,"c":43.52},{"t":312,"o":43.51,"h":43.53,"l":43.47,"c":43.49},{"t":313,"o":43.49,"h":43.52,"l":43.42,"c":43.44},{"t":314,"o":43.44,"h":43.46,"l":43.41,"c":43.46},{"t":315,"o":43.46,"h":43.46,"l":43.4,"c":43.42},{"t":316,"o":43.41,"h":43.46,"l":43.39,"c":43.39},{"t":317,"o":43.39,"h":43.46,"l":43.39,"c":43.46},{"t":318,"o":43.46,"h":43.48,"l":43.43,"c":43.46},{"t":319,"o":43.45,"h":43.45,"l":43.32,"c":43.34},{"t":320,"o":43.35,"h":43.39,"l":43.34,"c":43.35},{"t":321,"o":43.35,"h":43.4,"l":43.31,"c":43.33},{"t":322,"o":43.33,"h":43.34,"l":43.3,"c":43.31},{"t":323,"o":43.31,"h":43.32,"l":43.11,"c":43.18},{"t":324,"o":43.19,"h":43.26,"l":43.19,"c":43.24},{"t":325,"o":43.23,"h":43.24,"l":43.14,"c":43.15},{"t":326,"o":43.14,"h":43.14,"l":43.05,"c":43.11},{"t":327,"o":43.12,"h":43.18,"l":43.09,"c":43.12},{"t":328,"o":43.105,"h":43.13,"l":43.08,"c":43.1},{"t":329,"o":43.1,"h":43.13,"l":43.05,"c":43.09},{"t":330,"o":43.09,"h":43.18,"l":43.09,"c":43.14},{"t":331,"o":43.15,"h":43.2,"l":43.14,"c":43.18},{"t":332,"o":43.18,"h":43.22,"l":43.15,"c":43.19},{"t":333,"o":43.18,"h":43.24,"l":43.13,"c":43.14},{"t":334,"o":43.15,"h":43.15,"l":43.04,"c":43.04},{"t":335,"o":43.05,"h":43.11,"l":43.02,"c":43.03},{"t":336,"o":43.02,"h":43.12,"l":42.98,"c":43.1},{"t":337,"o":43.1,"h":43.1,"l":42.93,"c":42.94},{"t":338,"o":42.95,"h":42.96,"l":42.84,"c":42.9},{"t":339,"o":42.9,"h":42.93,"l":42.77,"c":42.81},{"t":340,"o":42.82,"h":42.85,"l":42.73,"c":42.83},{"t":341,"o":42.83,"h":42.9,"l":42.77,"c":42.85},{"t":342,"o":42.845,"h":42.89,"l":42.81,"c":42.84},{"t":343,"o":42.84,"h":42.95,"l":42.76,"c":42.9},{"t":344,"o":42.9,"h":42.98,"l":42.82,"c":42.87},{"t":345,"o":42.87,"h":42.99,"l":42.84,"c":42.94},{"t":346,"o":42.94,"h":42.98,"l":42.89,"c":42.94},{"t":347,"o":42.95,"h":42.97,"l":42.82,"c":42.84},{"t":348,"o":42.83,"h":42.89,"l":42.82,"c":42.88},{"t":349,"o":42.88,"h":42.89,"l":42.61,"c":42.63},{"t":350,"o":42.625,"h":42.63,"l":42.54,"c":42.62},{"t":351,"o":42.62,"h":42.66,"l":42.5,"c":42.51},{"t":352,"o":42.5,"h":42.59,"l":42.48,"c":42.53},{"t":353,"o":42.53,"h":42.62,"l":42.51,"c":42.59},{"t":354,"o":42.58,"h":42.62,"l":42.58,"c":42.6},{"t":355.6,"o":42.59,"h":42.59,"l":42.19,"c":42.24},{"t":357,"o":42.24,"h":42.43,"l":42.23,"c":42.4},{"t":358,"o":42.39,"h":42.39,"l":42.3,"c":42.36},{"t":359,"o":42.36,"h":42.38,"l":42.17,"c":42.22},{"t":360,"o":42.22,"h":42.29,"l":42.19,"c":42.25},{"t":361,"o":42.24,"h":42.27,"l":42.17,"c":42.22},{"t":362,"o":42.21,"h":42.35,"l":42.1,"c":42.31},{"t":363,"o":42.3,"h":42.35,"l":42.22,"c":42.3},{"t":364,"o":42.31,"h":42.38,"l":42.22,"c":42.24},{"t":365,"o":42.24,"h":42.26,"l":42.16,"c":42.24},{"t":366,"o":42.24,"h":42.28,"l":42.13,"c":42.23},{"t":367,"o":42.22,"h":42.26,"l":42.11,"c":42.13},{"t":368,"o":42.13,"h":42.32,"l":42.08,"c":42.3},{"t":369,"o":42.3,"h":42.34,"l":42.24,"c":42.25},{"t":370,"o":42.25,"h":42.32,"l":42.24,"c":42.31},{"t":371,"o":42.31,"h":42.34,"l":42.26,"c":42.31},{"t":372,"o":42.31,"h":42.31,"l":42.18,"c":42.26},{"t":373,"o":42.26,"h":42.39,"l":42.19,"c":42.37},{"t":374,"o":42.37,"h":42.44,"l":42.29,"c":42.4},{"t":375,"o":42.41,"h":42.42,"l":42.33,"c":42.36},{"t":376,"o":42.35,"h":42.35,"l":42.22,"c":42.22},{"t":377,"o":42.22,"h":42.3,"l":42.18,"c":42.29},{"t":378,"o":42.28,"h":42.28,"l":42.15,"c":42.21},{"t":379,"o":42.21,"h":42.23,"l":42.15,"c":42.21},{"t":380,"o":42.21,"h":42.29,"l":42.19,"c":42.25},{"t":381,"o":42.27,"h":42.27,"l":42.18,"c":42.18},{"t":382,"o":42.18,"h":42.28,"l":42.16,"c":42.27},{"t":383,"o":42.27,"h":42.27,"l":42.18,"c":42.21},{"t":384,"o":42.21,"h":42.27,"l":42.18,"c":42.23},{"t":385,"o":42.24,"h":42.31,"l":42.18,"c":42.26},{"t":386,"o":42.26,"h":42.26,"l":42.18,"c":42.22},{"t":387,"o":42.19,"h":42.22,"l":42.13,"c":42.15},{"t":388,"o":42.14,"h":42.15,"l":42.11,"c":42.12},{"t":389,"o":42.11,"h":42.3,"l":42.1,"c":42.28},{"t":390,"o":42.27,"h":42.34,"l":42.24,"c":42.27},{"t":391,"o":42.28,"h":42.3,"l":42.18,"c":42.25},{"t":392,"o":42.25,"h":42.27,"l":42.16,"c":42.18},{"t":393,"o":42.17,"h":42.23,"l":42.15,"c":42.22},{"t":394,"o":42.21,"h":42.27,"l":42.16,"c":42.25},{"t":395,"o":42.25,"h":42.35,"l":42.21,"c":42.32},{"t":396,"o":42.33,"h":42.38,"l":42.24,"c":42.24},{"t":397,"o":42.24,"h":42.25,"l":42.18,"c":42.25},{"t":398,"o":42.25,"h":42.29,"l":42.21,"c":42.26},{"t":399,"o":42.25,"h":42.29,"l":42.21,"c":42.21},{"t":400,"o":42.21,"h":42.22,"l":42.14,"c":42.21},{"t":401,"o":42.21,"h":42.21,"l":42.06,"c":42.07},{"t":402,"o":42.08,"h":42.1,"l":41.92,"c":42.085},{"t":403,"o":42.08,"h":42.15,"l":42.04,"c":42.09},{"t":404,"o":42.09,"h":42.11,"l":42.04,"c":42.06},{"t":405,"o":42.05,"h":42.09,"l":41.98,"c":42.08},{"t":406,"o":42.08,"h":42.09,"l":41.96,"c":41.99},{"t":407,"o":41.98,"h":42.02,"l":41.91,"c":42},{"t":408,"o":42,"h":42.28,"l":41.92,"c":42.24},{"t":409,"o":42.24,"h":42.29,"l":42.13,"c":42.26},{"t":410,"o":42.26,"h":42.32,"l":42.19,"c":42.29},{"t":411,"o":42.28,"h":42.32,"l":42.21,"c":42.27},{"t":412,"o":42.25,"h":42.26,"l":42.18,"c":42.23}]
},
"resolve":{"scale":{"y":"independent","color":"independent"},"axis":{"x":"independent","y":"independent"},"legend":{"color":"independent"}},
"layer":[
{"data":{"name":"chrome"},"mark":{"type":"rect"},"encoding":{"x":{"field":"t","type":"quantitative","scale":{"domain":[0,443.17],"padding":0},"axis":null},"x2":{"field":"t2"},"y":{"field":"p","type":"quantitative","scale":{"domain":[41.814,44.125]},"axis":null},"y2":{"field":"p2"},"color":{"field":"part","type":"nominal","legend":null,"scale":{"domain":["top","blue","bottom","side","info","edge","tool","box","scroll","tagc","tagr"],"range":["#0c2844","#0a78e8","#141414","#3a3a3a","#06003a","#7a5010","#222222","#b8b8b8","#153f66","#00ffff","#ff1010"]}}}},
{"data":{"name":"sessions"},"mark":{"type":"rect","color":"#0b004c"},"encoding":{"x":{"field":"t","type":"quantitative","scale":{"domain":[0,443.17],"padding":0},"axis":null},"x2":{"field":"t2"}}},
{"data":{"name":"hours"},"mark":{"type":"rule","color":"#a08850","strokeWidth":1,"strokeDash":[1,7],"opacity":0.8},"encoding":{"x":{"field":"t","type":"quantitative","scale":{"domain":[0,443.17],"padding":0},"axis":{"orient":"bottom","zindex":1,"title":null,"grid":false,"values":[2.9,14.9,27.1,39,51,63.2,75,87.3,99.3,111.2,123.6,135.4,147.6,159.5,169.5,179.5,189.5,199.8,210.8,222.8,235,247,259,271,283,295,307.2,319,331,343.2,355,367.3,379.5,391.7,403.4,415.6,427.8,439.6],"labelExpr":"['1','2','3','4','5','6','7','8','9','10','11','12','13','14','15','16','17','18','19','20','21','22','23','Thu','1','2','3','4','5','6','7','8','9','10','11','12','13','14'][indexof([2.9,14.9,27.1,39,51,63.2,75,87.3,99.3,111.2,123.6,135.4,147.6,159.5,169.5,179.5,189.5,199.8,210.8,222.8,235,247,259,271,283,295,307.2,319,331,343.2,355,367.3,379.5,391.7,403.4,415.6,427.8,439.6],datum.value)]","labelAlign":"left","labelOverlap":false,"labelFlush":false,"labelOffset":1,"labelPadding":1,"labelColor":"#8a5c18","labelFont":"DejaVu Sans","labelFontSize":14,"tickColor":"#8a5c18","tickSize":4,"domainColor":"#7a5010","domainWidth":2}}}},
{"data":{"name":"clticks"},"mark":{"type":"rule","color":"#96701e","strokeWidth":1,"strokeDash":[2,6],"opacity":0.9},"encoding":{"y":{"field":"v","type":"quantitative","scale":{"type":"log","domain":[41.819,44.125]},"axis":{"orient":"right","zindex":1,"title":null,"grid":false,"values":[41.9,42,42.1,42.2,42.3,42.4,42.5,42.6,42.7,42.8,42.9,43,43.1,43.2,43.3,43.4,43.5,43.6,43.7,43.8,43.9,44,44.1],"format":".1~f","labelColor":"#8a5c18","labelFont":"DejaVu Sans","labelFontSize":14,"labelPadding":2,"labelOverlap":false,"labelFlush":false,"tickColor":"#8a5c18","tickSize":3,"domainColor":"#7a5010","domainWidth":2}}}},
{"data":{"name":"esticks"},"mark":{"type":"rule","opacity":0},"encoding":{"y":{"field":"v","type":"quantitative","scale":{"type":"log","domain":[2045.41,2094.44]},"axis":{"orient":"left","zindex":1,"title":null,"grid":false,"values":[2046,2048,2050,2052,2054,2056,2058,2060,2062,2064,2066,2068,2070,2072,2074,2076,2078,2080,2082,2084,2086,2088,2090,2092,2094],"format":",d","labelColor":"#8a5c18","labelFont":"DejaVu Sans","labelFontSize":14,"labelPadding":2,"labelOverlap":false,"labelFlush":false,"tickColor":"#8a5c18","tickSize":3,"domainColor":"#7a5010","domainWidth":2}}}},
{"data":{"name":"bars"},"mark":{"type":"rule","strokeWidth":1},"encoding":{"x":{"field":"t","type":"quantitative","scale":{"domain":[0,443.17],"padding":0},"axis":null},"y":{"field":"h","type":"quantitative","scale":{"domain":[41.814,44.125]},"axis":null},"y2":{"field":"l"},"color":{"condition":[{"test":"datum.c<datum.o","value":"#ff0000"},{"test":"datum.c==datum.o","value":"#c4c4c4"}],"value":"#14e614"},"opacity":{"condition":{"test":"datum.t>129.5&&datum.t<343.2||datum.t<63.2||datum.t>409.5","value":0.88},"value":1}}},
{"data":{"name":"bars"},"mark":{"type":"bar","size":3,"strokeWidth":1},"encoding":{"x":{"field":"t","type":"quantitative","scale":{"domain":[0,443.17],"padding":0},"axis":null},"y":{"field":"o","type":"quantitative","scale":{"domain":[41.814,44.125]},"axis":null},"y2":{"field":"c"},"stroke":{"condition":[{"test":"datum.c<datum.o","value":"#ff0000"},{"test":"datum.c==datum.o","value":"#c4c4c4"}],"value":"#14e614"},"fill":{"condition":[{"test":"datum.c<datum.o","value":"#ff0000"},{"test":"datum.c==datum.o","value":"#c4c4c4"},{"test":"datum.t>129.5&&datum.t<343.2||datum.t<63.2||datum.t>409.5","value":"#473e70"}],"value":"#0b004c"},"opacity":{"condition":{"test":"datum.t>129.5&&datum.t<343.2||datum.t<63.2||datum.t>409.5","value":0.88},"value":1}}},
{"data":{"name":"es"},"mark":{"type":"line","color":"#1cdcec","strokeWidth":1.5,"interpolate":"linear"},"encoding":{"x":{"field":"t","type":"quantitative","scale":{"domain":[0,443.17],"padding":0},"axis":null},"y":{"field":"es","type":"quantitative","scale":{"domain":[2045.4,2094.45]},"axis":null}}},
{"data":{"name":"trends"},"transform":[{"filter":"indexof(['a','e','h','i','j'],datum.n)>=0"}],"mark":{"type":"line","color":"#ffffff","strokeWidth":2.5},"encoding":{"detail":{"field":"n"},"x":{"field":"t","type":"quantitative","scale":{"domain":[0,443.17],"padding":0},"axis":null},"y":{"field":"p","type":"quantitative","scale":{"domain":[41.814,44.125]},"axis":null}}},
{"data":{"name":"trends"},"transform":[{"filter":"datum.n=='b'||datum.n=='d'"}],"mark":{"type":"line","color":"#e8e8f0","strokeWidth":1.5},"encoding":{"detail":{"field":"n"},"x":{"field":"t","type":"quantitative","scale":{"domain":[0,443.17],"padding":0},"axis":null},"y":{"field":"p","type":"quantitative","scale":{"domain":[41.814,44.125]},"axis":null}}},
{"data":{"name":"trends"},"transform":[{"filter":"datum.n=='c'"}],"mark":{"type":"line","color":"#ffffff","strokeWidth":2.5,"strokeDash":[21,7]},"encoding":{"x":{"field":"t","type":"quantitative","scale":{"domain":[0,443.17],"padding":0},"axis":null},"y":{"field":"p","type":"quantitative","scale":{"domain":[41.814,44.125]},"axis":null}}},
{"data":{"name":"trends"},"transform":[{"filter":"datum.n=='f'"}],"mark":{"type":"line","color":"#e00010","strokeWidth":1.5},"encoding":{"x":{"field":"t","type":"quantitative","scale":{"domain":[0,443.17],"padding":0},"axis":null},"y":{"field":"p","type":"quantitative","scale":{"domain":[41.814,44.125]},"axis":null}}},
{"data":{"name":"trends"},"transform":[{"filter":"datum.n=='g'"}],"mark":{"type":"line","color":"#f01018","strokeWidth":2.5,"strokeDash":[21,7]},"encoding":{"x":{"field":"t","type":"quantitative","scale":{"domain":[0,443.17],"padding":0},"axis":null},"y":{"field":"p","type":"quantitative","scale":{"domain":[41.814,44.125]},"axis":null}}},
{"data":{"name":"labels"},"mark":{"type":"text","align":"left","baseline":"middle","font":"DejaVu Sans","fontSize":13.5},"encoding":{"text":{"field":"s"},"x":{"field":"t","type":"quantitative","scale":{"domain":[0,443.17],"padding":0},"axis":null},"y":{"field":"p","type":"quantitative","scale":{"domain":[41.814,44.125]},"axis":null},"color":{"field":"g","type":"nominal","legend":null,"scale":{"domain":["k","o","g","w","c","r","v","x"],"range":["#000000","#8a6010","#18a818","#d0d0d0","#00e8f0","#e01010","#9a96b4","#ffffff"]}}}},
{"data":{"name":"last"},"mark":{"type":"text","align":"left","baseline":"middle","font":"Liberation Sans","fontSize":21,"color":"#f01010"},"encoding":{"text":{"field":"s"},"x":{"field":"t","type":"quantitative","scale":{"domain":[0,443.17],"padding":0},"axis":null},"y":{"field":"p","type":"quantitative","scale":{"domain":[41.814,44.125]},"axis":null}}},
{"data":{"name":"tabs"},"mark":{"type":"text","align":"center","baseline":"middle","angle":270,"font":"DejaVu Sans","fontSize":14},"encoding":{"text":{"field":"s"},"x":{"field":"t","type":"quantitative","scale":{"domain":[0,443.17],"padding":0},"axis":null},"y":{"field":"p","type":"quantitative","scale":{"domain":[41.814,44.125]},"axis":null},"color":{"field":"g","type":"nominal","legend":null,"scale":{"domain":["n","y"],"range":["#b8b8b8","#e0b020"]}}}},
{"data":{"name":"notes"},"mark":{"type":"text","align":"left","baseline":"middle","font":"Liberation Mono","fontSize":21,"color":"#ffffff"},"encoding":{"text":{"field":"s"},"x":{"field":"t","type":"quantitative","scale":{"domain":[0,443.17],"padding":0},"axis":null},"y":{"field":"p","type":"quantitative","scale":{"domain":[41.814,44.125]},"axis":null}}}
]}
